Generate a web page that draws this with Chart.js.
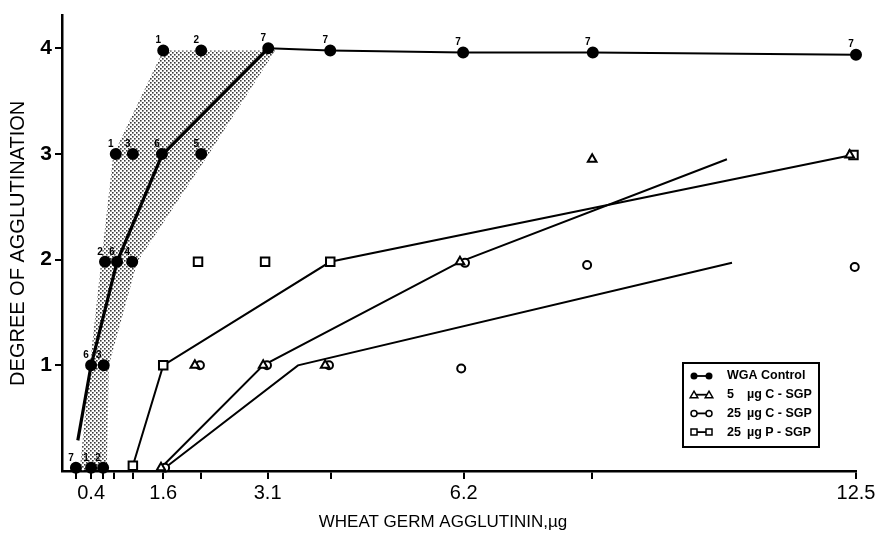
<!DOCTYPE html>
<html><head><meta charset="utf-8">
<script src="https://cdn.jsdelivr.net/npm/chart.js@4.4.1/dist/chart.umd.min.js"></script>
<style>html,body{margin:0;padding:0;background:#fff}</style>
</head><body>
<canvas id="c" width="888" height="535"></canvas>
<script>
// ---- axis ticks ----
const xTickValues = [0.17, 0.41, 0.6, 0.77, 1.07, 1.55, 2.15, 3.2, 4.2, 6.3, 8.33, 12.5];
const xTickLabels = ['', '0.4', '', '', '', '1.6', '', '3.1', '', '6.2', '', '12.5'];
const yTickValues = [1, 2, 3, 4];
const yTickLabels = ['1', '2', '3', '4'];
const xTitle = 'WHEAT GERM AGGLUTININ,µg';
const yTitle = 'DEGREE OF AGGLUTINATION';

// ---- WGA control (individual experiments, filled circles, with experiment counts) ----
const controlX = [1.55, 2.15, 3.21, 4.19, 6.29, 8.34, 12.5, 0.80, 1.07, 1.53, 2.15, 0.63, 0.82, 1.06, 0.41, 0.61, 0.17, 0.41, 0.60];
const controlY = [3.98, 3.98, 4.0, 3.98, 3.96, 3.96, 3.94, 3.0, 3.0, 3.0, 3.0, 1.98, 1.98, 1.98, 1.0, 1.0, 0.03, 0.03, 0.03];
const controlN = ['1', '2', '7', '7', '7', '7', '7', '1', '3', '6', '5', '2', '6', '4', '6', '3', '7', '1', '2'];
// control mean curve and plateau
const controlCurveX = [0.2, 0.41, 0.82, 1.53, 3.21];
const controlCurveY = [0.29, 1.0, 1.98, 2.99, 4.0];
const plateauX = [3.21, 4.19, 6.29, 8.34, 12.5];
const plateauY = [4.0, 3.98, 3.96, 3.96, 3.94];
// shaded range of control experiments (closed outline)
const shadeX = [0.23, 0.39, 0.57, 0.76, 1.55, 3.32, 2.26, 1.14, 0.69, 0.66];
const shadeY = [0.0, 1.0, 1.98, 2.99, 3.98, 3.98, 2.99, 1.98, 1.0, 0.0];

// ---- 5 ug C-SGP (triangles) ----
const triX = [1.515, 2.05, 3.13, 4.11, 6.24, 8.33, 12.4];
const triY = [0.03, 1.0, 1.0, 1.0, 1.98, 2.95, 2.99];
const triLineX = [1.515, 3.13, 6.24, 10.46];
const triLineY = [0.03, 1.0, 1.98, 2.95];

// ---- 25 ug C-SGP (circles) ----
const circX = [1.58, 2.13, 3.19, 4.17, 6.32, 6.26, 8.25, 12.48];
const circY = [0.03, 1.0, 1.0, 1.0, 1.97, 0.97, 1.95, 1.93];
const circLineX = [1.58, 3.68, 10.54];
const circLineY = [0.03, 1.0, 1.97];

// ---- 25 ug P-SGP (squares) ----
const sqX = [1.07, 1.55, 2.1, 3.16, 4.19, 12.46];
const sqY = [0.05, 1.0, 1.98, 1.98, 1.98, 2.99];
const sqLineX = [1.07, 1.55, 4.19, 12.44];
const sqLineY = [0.05, 1.0, 1.98, 2.99];

// ---- legend ----
const legendNums = ['', '5', '25', '25'];
const legendTexts = ['WGA Control', 'µg C - SGP', 'µg C - SGP', 'µg P - SGP'];
const legendStyles = ['dot', 'triangle', 'circle', 'rect'];

const pts = (xs, ys) => xs.map((x, i) => ({x: x, y: ys[i]}));

// stipple pattern
const pc = document.createElement('canvas');
pc.width = 4; pc.height = 4;
const pcx = pc.getContext('2d');
pcx.fillStyle = '#3a3a3a';
pcx.fillRect(0, 0, 1.6, 1.6);
pcx.fillRect(2, 2, 1.6, 1.6);
const stipple = document.getElementById('c').getContext('2d').createPattern(pc, 'repeat');

const FONT = 'Liberation Sans, Arial, sans-serif';

const lineDs = (label, xs, ys, w, order) => ({
  label: label, data: pts(xs, ys), borderColor: '#000', borderWidth: w,
  pointRadius: 0, fill: false, tension: 0, order: order, clip: false
});
const markDs = (label, xs, ys, style, r, bg) => ({
  label: label, data: pts(xs, ys), showLine: false, pointStyle: style,
  pointRadius: r, pointBackgroundColor: bg, pointBorderColor: '#000',
  pointBorderWidth: 2, order: 0, clip: false
});

const numberLabels = {
  id: 'numberLabels',
  afterDatasetsDraw(chart) {
    const meta = chart.getDatasetMeta(3);
    const ctx = chart.ctx;
    ctx.save();
    ctx.fillStyle = '#000';
    ctx.font = 'bold 10px ' + FONT;
    ctx.textAlign = 'center';
    ctx.textBaseline = 'bottom';
    meta.data.forEach((el, i) => {
      ctx.fillText(controlN[i], el.x - 5, el.y - 5);
    });
    ctx.restore();
  }
};

function drawSym(ctx, style, x, y) {
  ctx.beginPath();
  if (style === 'dot') {
    ctx.arc(x, y, 3.5, 0, Math.PI * 2); ctx.fillStyle = '#000'; ctx.fill(); return;
  }
  ctx.fillStyle = '#fff';
  if (style === 'circle') ctx.arc(x, y, 3, 0, Math.PI * 2);
  else if (style === 'rect') ctx.rect(x - 3, y - 3, 6, 6);
  else { ctx.moveTo(x, y - 3.5); ctx.lineTo(x + 3.8, y + 3); ctx.lineTo(x - 3.8, y + 3); ctx.closePath(); }
  ctx.fill(); ctx.stroke();
}

const boxLegend = {
  id: 'boxLegend',
  afterDraw(chart) {
    const ctx = chart.ctx;
    const bx = 683, by = 363, bw = 136, bh = 84;
    ctx.save();
    ctx.fillStyle = '#fff';
    ctx.fillRect(bx, by, bw, bh);
    ctx.lineWidth = 2; ctx.strokeStyle = '#000';
    ctx.strokeRect(bx, by, bw, bh);
    ctx.font = 'bold 12.5px ' + FONT;
    ctx.textBaseline = 'middle';
    legendTexts.forEach((t, i) => {
      const y = by + 13 + i * 18.7;
      ctx.lineWidth = 1.8;
      ctx.beginPath(); ctx.moveTo(694, y); ctx.lineTo(709, y); ctx.stroke();
      ctx.lineWidth = 1.5;
      drawSym(ctx, legendStyles[i], 694, y);
      drawSym(ctx, legendStyles[i], 709, y);
      ctx.fillStyle = '#000';
      if (legendNums[i] === '') {
        ctx.fillText(t, 727, y);
      } else {
        ctx.fillText(legendNums[i], 727, y);
        ctx.fillText(t, 747, y);
      }
    });
    // x axis title (offset left of the plot centre as in the original)
    ctx.font = '17px ' + FONT;
    ctx.textAlign = 'center';
    ctx.textBaseline = 'middle';
    ctx.fillText(xTitle, 443, 522);
    ctx.restore();
  }
};

new Chart(document.getElementById('c'), {
  type: 'line',
  data: {
    datasets: [
      { label: 'range', data: pts(shadeX, shadeY), borderWidth: 0, borderColor: 'rgba(0,0,0,0)',
        backgroundColor: stipple, fill: 'shape', pointRadius: 0, tension: 0, order: 20 },
      lineDs('WGA Control mean', controlCurveX, controlCurveY, 3.2, 5),
      lineDs('WGA Control plateau', plateauX, plateauY, 2, 5),
      markDs('WGA Control', controlX, controlY, 'circle', 5, '#000'),
      lineDs('5 µg C-SGP line', triLineX, triLineY, 2, 5),
      markDs('5 µg C-SGP', triX, triY, 'triangle', 5, '#fff'),
      lineDs('25 µg C-SGP line', circLineX, circLineY, 2, 5),
      markDs('25 µg C-SGP', circX, circY, 'circle', 4, '#fff'),
      lineDs('25 µg P-SGP line', sqLineX, sqLineY, 2, 5),
      markDs('25 µg P-SGP', sqX, sqY, 'rect', 6, '#fff')
    ]
  },
  options: {
    responsive: false,
    devicePixelRatio: 1,
    animation: false,
    layout: { padding: { top: 10, right: 32, left: 0, bottom: 0 } },
    plugins: { legend: { display: false }, tooltip: { enabled: false } },
    scales: {
      x: {
        type: 'linear', min: -0.05, max: 12.5,
        afterBuildTicks: s => { s.ticks = xTickValues.map(v => ({ value: v })); },
        afterFit: s => { s.height = 64; },
        ticks: { autoSkip: false, maxRotation: 0, padding: 2, color: '#000',
          font: { family: FONT, size: 20 }, callback: (v, i) => xTickLabels[i] },
        grid: { drawOnChartArea: false, drawTicks: true, tickLength: 8, color: '#000', lineWidth: 2 },
        border: { display: true, color: '#000', width: 2.5 },
        title: { display: false }
      },
      y: {
        type: 'linear', min: 0, max: 4.31,
        afterBuildTicks: s => { s.ticks = yTickValues.map(v => ({ value: v })); },
        afterFit: s => { s.width = 62; },
        ticks: { color: '#000', padding: 3, font: { family: FONT, size: 21, weight: 'bold' },
          callback: (v, i) => yTickLabels[i] },
        grid: { drawOnChartArea: false, drawTicks: true, tickLength: 7, color: '#000', lineWidth: 2 },
        border: { display: true, color: '#000', width: 2.5 },
        title: { display: true, text: yTitle, color: '#000',
          font: { family: FONT, size: 20 }, padding: { top: 6, bottom: 0 } }
      }
    }
  },
  plugins: [numberLabels, boxLegend]
});
</script>
</body></html>
